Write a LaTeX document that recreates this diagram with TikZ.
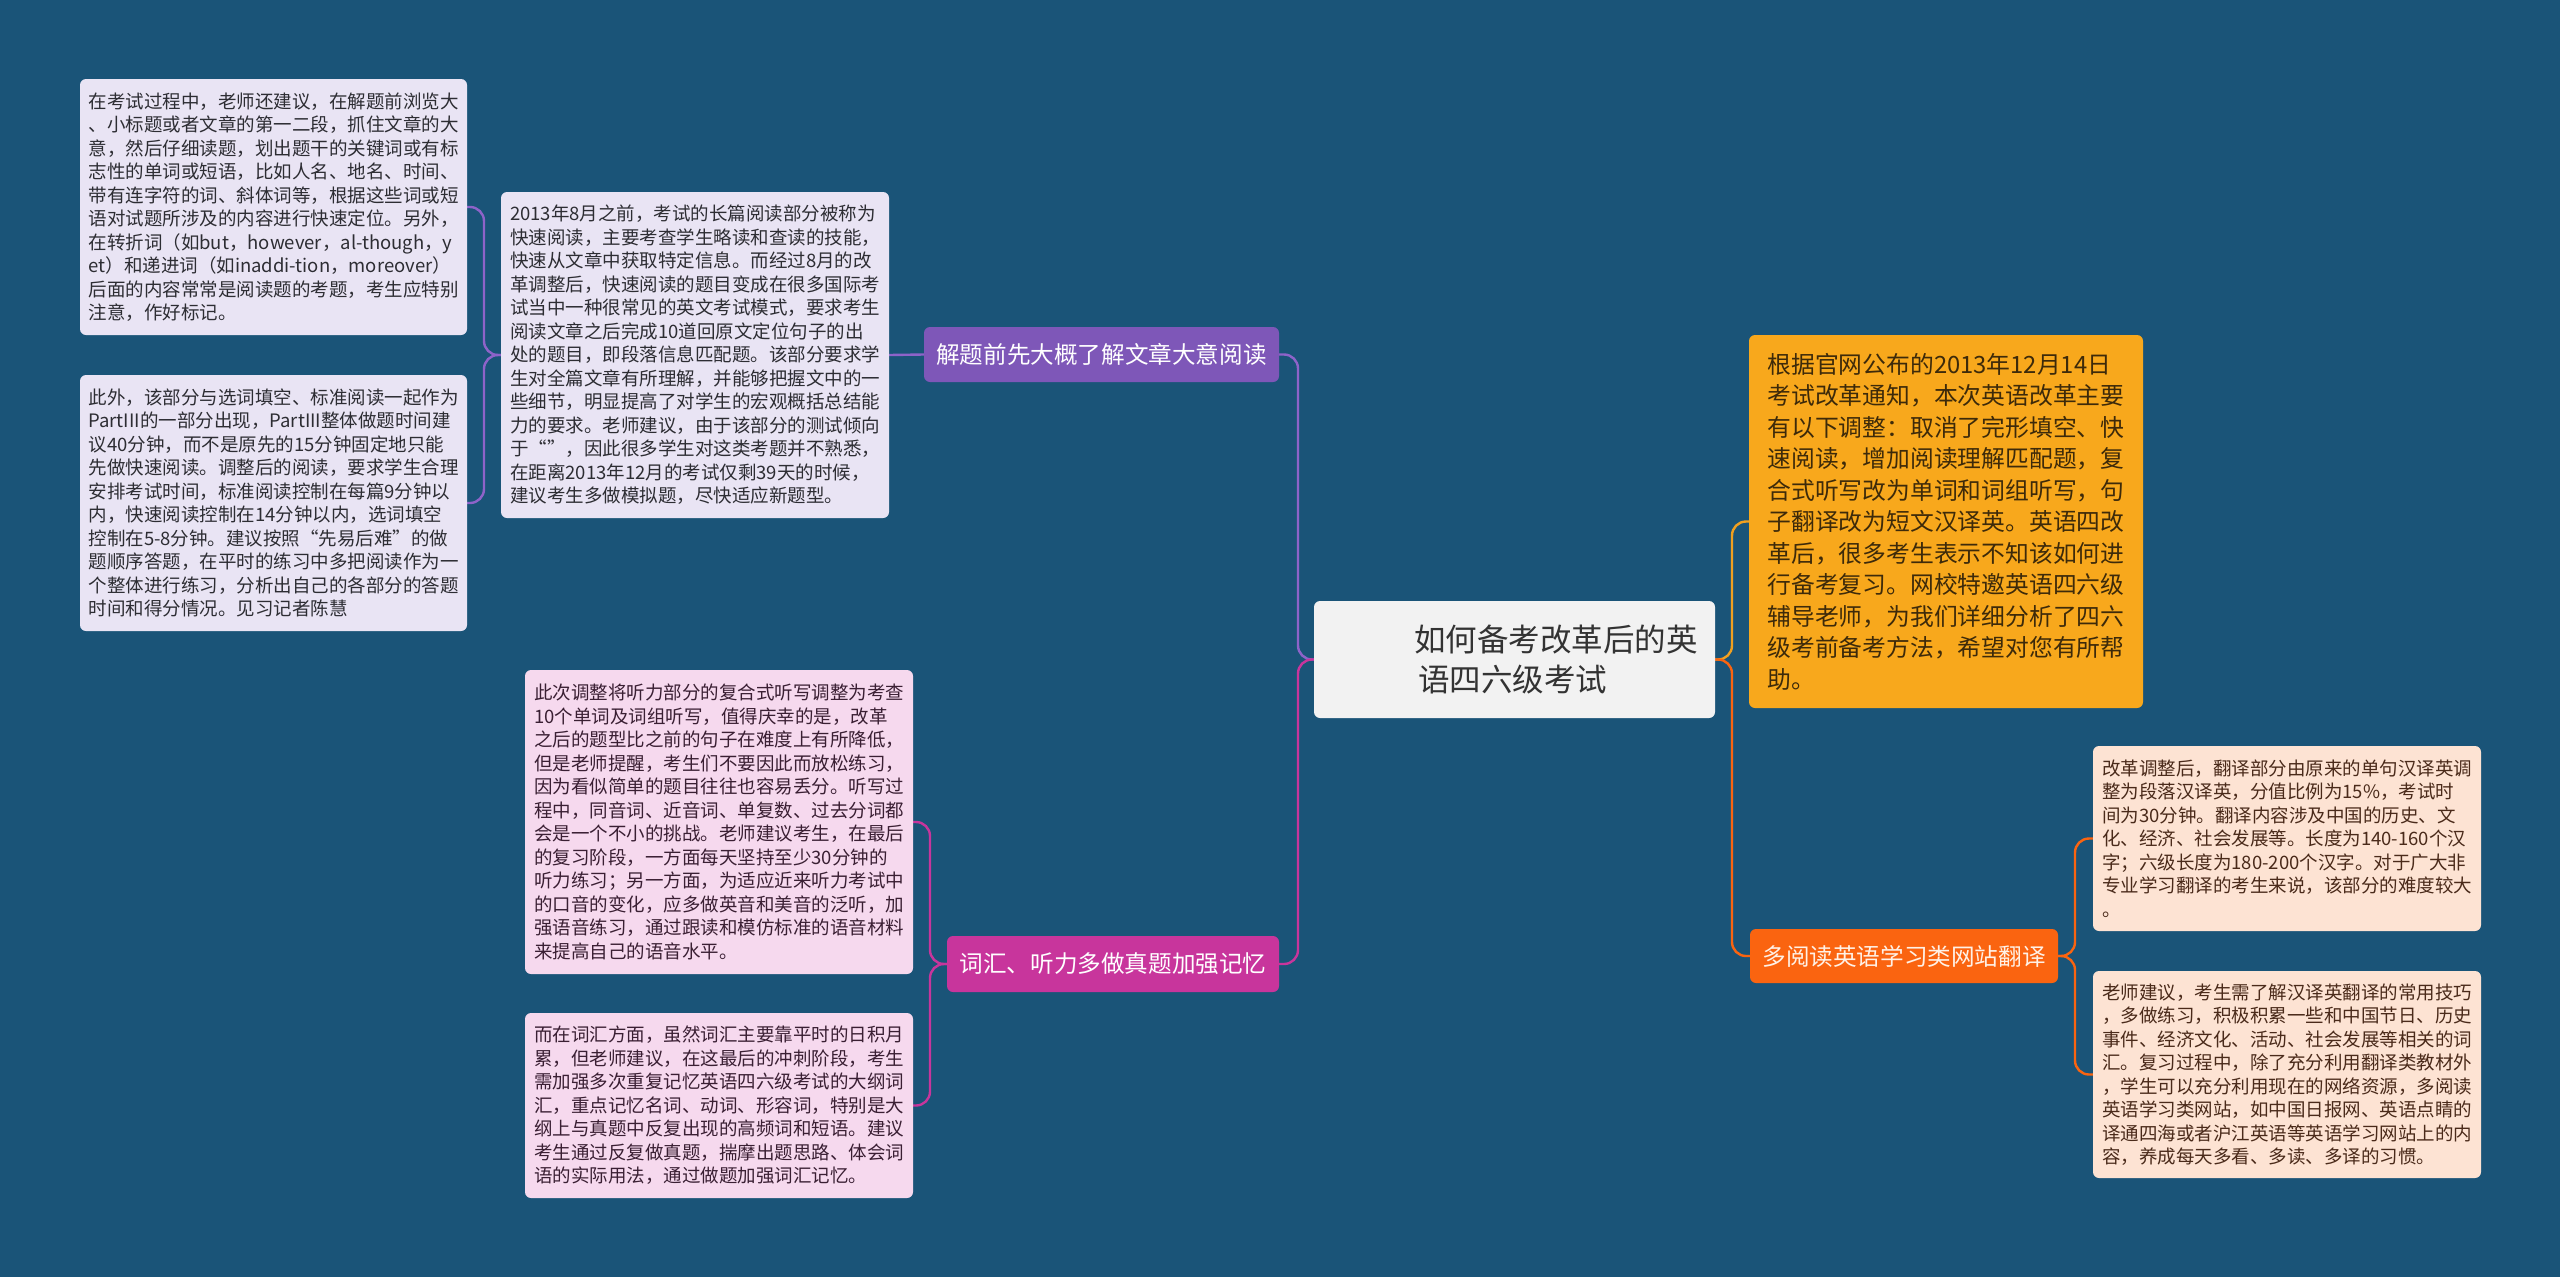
\documentclass[tikz,border=0pt]{standalone}
\usepackage{fontspec}
\newfontfamily\cjk{Noto Sans CJK SC}
\definecolor{bgc}{HTML}{1A5478}
\definecolor{plabc}{HTML}{7E57B8}
\definecolor{plinec}{HTML}{8E63C9}
\definecolor{lavc}{HTML}{E9E4F4}
\definecolor{lavtext}{HTML}{2D2D33}
\definecolor{klabc}{HTML}{C8359C}
\definecolor{klinec}{HTML}{C8359C}
\definecolor{pinkc}{HTML}{F6D9EE}
\definecolor{pinktext}{HTML}{3A1F33}
\definecolor{rootc}{HTML}{F2F2F2}
\definecolor{roottext}{HTML}{333333}
\definecolor{goldc}{HTML}{F8A81C}
\definecolor{goldtext}{HTML}{3D2A0A}
\definecolor{glinec}{HTML}{F0A020}
\definecolor{olabc}{HTML}{FA6410}
\definecolor{olabtext}{HTML}{FFF1E6}
\definecolor{peachc}{HTML}{FDE3D3}
\definecolor{peachtext}{HTML}{4A2A1A}
\pgfdeclarelayer{bglayer}
\pgfdeclarelayer{edgelayer}
\pgfsetlayers{bglayer,edgelayer,main}
\tikzset{
  box/.style={rounded corners=6pt, inner sep=0pt, align=left,
    font=\cjk\fontsize{18.5}{23.5}\selectfont},
  lavbox/.style={box, fill=lavc, text=lavtext},
  pinkbox/.style={box, fill=pinkc, text=pinktext},
  peachbox/.style={box, fill=peachc, text=peachtext},
  goldbox/.style={box, fill=goldc, text=goldtext, font=\cjk\fontsize{23.8}{31.5}\selectfont},
  labbox/.style={rounded corners=6pt, inner sep=0pt, align=center,
    font=\cjk\fontsize{23.6}{28}\selectfont},
  conn/.style={line width=2.4pt, rounded corners=14pt},
  pline/.style={conn, draw=plinec},
  kline/.style={conn, draw=klinec},
  gline/.style={conn, draw=glinec},
  oline/.style={conn, draw=olabc},
}
\begin{document}
\begin{tikzpicture}[x=1pt,y=-1pt]
\begin{pgfonlayer}{bglayer}
\fill[bgc] (0,0) rectangle (2560,1277);
\end{pgfonlayer}
\useasboundingbox (0,0) rectangle (2560,1277);

% root
\node[fill=rootc, rounded corners=6pt, minimum width=401pt, minimum height=117pt, inner sep=0pt] (root) at (1514.5,659.5) {};
\node[anchor=west, align=left, inner sep=0pt, text=roottext, font=\cjk\fontsize{31.5}{40}\selectfont] (roottxt) at (1414,659.5) {如何备考改革后的英\\\hspace*{4pt}语四六级考试};

% purple branch
\node[labbox, fill=plabc, text=white, minimum width=355pt, minimum height=55pt] (plab) at (1101.5,354.5) {解题前先大概了解文章大意阅读};
\node[lavbox, minimum width=388pt, minimum height=326pt] (b3) at (695,355) {2013年8月之前，考试的长篇阅读部分被称为\\快速阅读，主要考查学生略读和查读的技能，\\快速从文章中获取特定信息。而经过8月的改\\革调整后，快速阅读的题目变成在很多国际考\\试当中一种很常见的英文考试模式，要求考生\\阅读文章之后完成10道回原文定位句子的出\\处的题目，即段落信息匹配题。该部分要求学\\生对全篇文章有所理解，并能够把握文中的一\\些细节，明显提高了对学生的宏观概括总结能\\力的要求。老师建议，由于该部分的测试倾向\\于“”，因此很多学生对这类考题并不熟悉，\\在距离2013年12月的考试仅剩39天的时候，\\建议考生多做模拟题，尽快适应新题型。};
\node[lavbox, minimum width=387pt, minimum height=256pt] (b1) at (273.5,207) {在考试过程中，老师还建议，在解题前浏览大\\、小标题或者文章的第一二段，抓住文章的大\\意，然后仔细读题，划出题干的关键词或有标\\志性的单词或短语，比如人名、地名、时间、\\带有连字符的词、斜体词等，根据这些词或短\\语对试题所涉及的内容进行快速定位。另外，\\在转折词（如but，however，al-though，y\\et）和递进词（如inaddi-tion，moreover）\\后面的内容常常是阅读题的考题，考生应特别\\注意，作好标记。};
\node[lavbox, minimum width=387pt, minimum height=256pt] (b2) at (273.5,503) {此外，该部分与选词填空、标准阅读一起作为\\PartIII的一部分出现，PartIII整体做题时间建\\议40分钟，而不是原先的15分钟固定地只能\\先做快速阅读。调整后的阅读，要求学生合理\\安排考试时间，标准阅读控制在每篇9分钟以\\内，快速阅读控制在14分钟以内，选词填空\\控制在5-8分钟。建议按照“先易后难”的做\\题顺序答题，在平时的练习中多把阅读作为一\\个整体进行练习，分析出自己的各部分的答题\\时间和得分情况。见习记者陈慧};

% pink branch
\node[labbox, fill=klabc, text=white, minimum width=332pt, minimum height=56pt] (klab) at (1113,964) {词汇、听力多做真题加强记忆};
\node[pinkbox, minimum width=388pt, minimum height=304pt] (pb1) at (719,822) {此次调整将听力部分的复合式听写调整为考查\\10个单词及词组听写，值得庆幸的是，改革\\之后的题型比之前的句子在难度上有所降低，\\但是老师提醒，考生们不要因此而放松练习，\\因为看似简单的题目往往也容易丢分。听写过\\程中，同音词、近音词、单复数、过去分词都\\会是一个不小的挑战。老师建议考生，在最后\\的复习阶段，一方面每天坚持至少30分钟的\\听力练习；另一方面，为适应近来听力考试中\\的口音的变化，应多做英音和美音的泛听，加\\强语音练习，通过跟读和模仿标准的语音材料\\来提高自己的语音水平。};
\node[pinkbox, minimum width=388pt, minimum height=185pt] (pb2) at (719,1105.5) {而在词汇方面，虽然词汇主要靠平时的日积月\\累，但老师建议，在这最后的冲刺阶段，考生\\需加强多次重复记忆英语四六级考试的大纲词\\汇，重点记忆名词、动词、形容词，特别是大\\纲上与真题中反复出现的高频词和短语。建议\\考生通过反复做真题，揣摩出题思路、体会词\\语的实际用法，通过做题加强词汇记忆。};

% right side
\node[goldbox, minimum width=394pt, minimum height=373pt] (ob) at (1946,521.5) {根据官网公布的2013年12月14日\\考试改革通知，本次英语改革主要\\有以下调整：取消了完形填空、快\\速阅读，增加阅读理解匹配题，复\\合式听写改为单词和词组听写，句\\子翻译改为短文汉译英。英语四改\\革后，很多考生表示不知该如何进\\行备考复习。网校特邀英语四六级\\辅导老师，为我们详细分析了四六\\级考前备考方法，希望对您有所帮\\助。};
\node[labbox, fill=olabc, text=olabtext, minimum width=308pt, minimum height=54pt] (olab) at (1904,956) {多阅读英语学习类网站翻译};
\node[peachbox, minimum width=388pt, minimum height=185pt] (rb1) at (2287,838.5) {改革调整后，翻译部分由原来的单句汉译英调\\整为段落汉译英，分值比例为15\%，考试时\\间为30分钟。翻译内容涉及中国的历史、文\\化、经济、社会发展等。长度为140-160个汉\\字；六级长度为180-200个汉字。对于广大非\\专业学习翻译的考生来说，该部分的难度较大\\。};
\node[peachbox, minimum width=388pt, minimum height=207pt] (rb2) at (2287,1074.5) {老师建议，考生需了解汉译英翻译的常用技巧\\，多做练习，积极积累一些和中国节日、历史\\事件、经济文化、活动、社会发展等相关的词\\汇。复习过程中，除了充分利用翻译类教材外\\，学生可以充分利用现在的网络资源，多阅读\\英语学习类网站，如中国日报网、英语点睛的\\译通四海或者沪江英语等英语学习网站上的内\\容，养成每天多看、多读、多译的习惯。};

% junctions
\coordinate (lj) at (1298,659.5);
\coordinate (rj) at (1732,659.5);
\coordinate (bj) at (484,355);
\coordinate (kj) at (930,964);
\coordinate (oj) at (2075,956);

\begin{pgfonlayer}{edgelayer}
\draw[pline] (root.west) -- (lj) |- (plab.east);
\draw[kline] (root.west) -- (lj) |- (klab.east);
\draw[pline] (plab.west) -- (b3.east);
\draw[pline] (b3.west) -- (bj) |- (b1.east);
\draw[pline] (b3.west) -- (bj) |- (b2.east);
\draw[kline] (klab.west) -- (kj) |- (pb1.east);
\draw[kline] (klab.west) -- (kj) |- (pb2.east);
\draw[gline] (root.east) -- (rj) |- (ob.west);
\draw[oline] (root.east) -- (rj) |- (olab.west);
\draw[oline] (olab.east) -- (oj) |- (rb1.west);
\draw[oline] (olab.east) -- (oj) |- (rb2.west);
\end{pgfonlayer}
\end{tikzpicture}
\end{document}
